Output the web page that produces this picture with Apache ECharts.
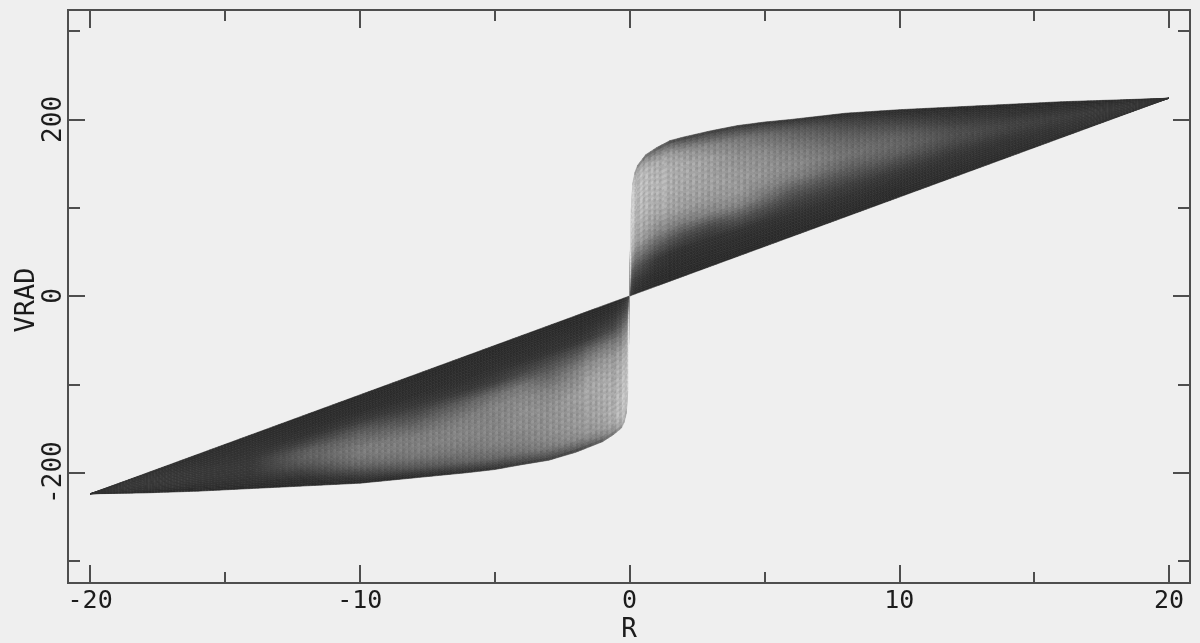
<!DOCTYPE html>
<html>
<head>
<meta charset="utf-8">
<style>html,body{margin:0;padding:0;background:#efefef}#c{width:1200px;height:643px}</style>
<script src="https://cdn.jsdelivr.net/npm/echarts@6/dist/echarts.min.js"></script>
</head>
<body>
<div id="c"></div>
<script>
const xMajorTicks = [-20, -10, 0, 10, 20];
const xMinorTicks = [-15, -5, 5, 15];
const yMajorTicks = [-200, 0, 200];
const yMinorTicks = [-300, -100, 100, 300];

// fractional position between the straight edge (0) and the curved edge (1)
const bandStops = [0, .03, .1, .2, .3, .4, .5, .6, .7, .8, .9, .96, 1];

const rRight = [0, .03, .07, .12, .2, .3, .6, 1, 1.5, 2, 3, 4, 5, 6, 8, 10, 12, 14, 16, 18, 20];
const lineRight = [0, .3, .8, 1.3, 2.2, 3.4, 6.7, 11.2, 16.8, 22.4, 33.6, 44.8, 56, 67.2, 89.6, 112, 134.4, 156.8, 179.2, 201.6, 224];
const curveRight = [0, 50, 100, 128, 140, 148, 160, 168, 176, 180, 187, 193, 197, 200, 207, 211, 214, 217, 220, 222, 224];
const shadeRight = [
  [60,60,60,60,60,60,60,60,60,60,60,60,60],
  [60,75,110,150,185,205,222,230,235,237,238,238,238],
  [55,62,75,110,145,180,200,212,220,225,228,228,225],
  [50,55,62,85,125,165,185,195,200,205,205,200,185],
  [47,50,58,82,122,160,178,188,192,195,195,190,165],
  [45,48,55,80,120,155,172,180,185,188,188,175,140],
  [45,45,50,70,110,150,168,178,182,185,178,152,105],
  [42,42,45,55,95,135,160,172,178,178,168,132,85],
  [42,42,45,50,85,130,158,168,172,172,158,118,70],
  [42,42,44,48,75,125,155,162,166,168,148,102,65],
  [42,42,44,48,70,128,150,158,158,155,130,90,60],
  [42,42,44,50,85,132,150,152,148,138,118,80,55],
  [42,42,44,50,75,112,135,145,142,128,105,75,50],
  [42,42,44,50,65,90,125,138,130,115,95,70,50],
  [42,42,45,50,60,80,100,112,105,90,70,55,45],
  [42,42,44,48,55,72,90,100,95,78,58,48,45],
  [42,44,46,48,52,60,72,78,72,60,50,46,42],
  [42,44,46,48,50,55,62,65,60,52,48,44,42],
  [42,44,48,50,52,55,58,60,55,50,46,44,42],
  [45,46,50,52,52,54,55,55,52,50,46,44,42],
  [50,50,50,50,50,50,50,50,50,50,50,50,50]
];

const rLeft = [0, -.03, -.07, -.12, -.2, -.3, -.6, -1, -1.5, -2, -3, -4, -5, -6, -8, -10, -12, -14, -16, -18, -20];
const lineLeft = [0, -.3, -.8, -1.3, -2.2, -3.4, -6.7, -11.2, -16.8, -22.4, -33.6, -44.8, -56, -67.2, -89.6, -112, -134.4, -156.8, -179.2, -201.6, -224];
const curveLeft = [0, -55, -110, -133, -143, -149.5, -157, -165, -171, -177, -186, -191, -196.5, -200, -206, -212, -215, -218, -221, -223, -224];
const shadeLeft = [
  [60,60,60,60,60,60,60,60,60,60,60,60,60],
  [60,75,110,150,190,210,225,232,236,238,238,238,238],
  [58,65,85,120,160,190,208,215,220,225,226,226,222],
  [55,60,75,110,150,175,190,198,202,205,205,200,185],
  [50,54,66,100,138,162,178,186,190,192,192,184,165],
  [45,48,60,90,125,155,170,178,182,185,185,175,150],
  [42,45,50,70,118,148,165,172,175,178,172,155,120],
  [42,42,48,65,115,148,162,168,168,162,155,130,90],
  [42,42,46,55,105,138,156,162,158,155,145,115,75],
  [42,42,45,52,90,125,142,155,152,150,138,105,65],
  [42,42,45,50,78,105,132,142,142,140,125,90,60],
  [42,42,44,48,70,118,135,140,138,130,115,80,55],
  [42,42,44,48,60,110,130,130,132,125,105,70,48],
  [42,42,44,46,55,95,118,130,130,120,100,65,45],
  [42,42,44,46,55,75,100,120,125,115,85,55,42],
  [42,42,44,46,58,85,105,120,118,100,65,48,42],
  [42,42,44,46,50,65,90,95,85,65,48,44,42],
  [42,44,46,48,50,52,55,56,55,52,48,44,42],
  [44,46,48,50,52,54,56,56,55,52,48,44,42],
  [46,48,50,52,54,56,56,56,54,52,48,44,42],
  [50,50,50,50,50,50,50,50,50,50,50,50,50]
];

const AXIS = '#4e4e4e', TEXT = '#1c1c1c', FONT = '"DejaVu Sans Mono"';

function meshSeries(rs, line, curve, shade) {
  const cells = [];
  for (let i = 0; i < rs.length - 1; i++) for (let j = 0; j < bandStops.length - 1; j++) cells.push([i, j]);
  return {
    type: 'custom', silent: true, xAxisIndex: 0, yAxisIndex: 0, clip: false,
    data: cells, progressive: 0, animation: false,
    renderItem(params, api) {
      const i = api.value(0), j = api.value(1);
      const vAt = (c, t) => line[c] + (curve[c] - line[c]) * t;
      const node = (c, s) => api.coord([rs[c], vAt(c, bandStops[s])]);
      const a = node(i, j), b = node(i + 1, j), c = node(i + 1, j + 1), d = node(i, j + 1);
      const g0 = shade[i][j], g1 = shade[i + 1][j], g2 = shade[i + 1][j + 1], g3 = shade[i][j + 1];
      const w = Math.max(Math.abs(b[0] - a[0]), Math.abs(c[0] - d[0]));
      const h = Math.max(Math.abs(d[1] - a[1]), Math.abs(c[1] - b[1]));
      const nx = Math.max(1, Math.ceil(w / 3)), ny = Math.max(1, Math.ceil(h / 3));
      const pt = (u, v) => [
        (1-u)*(1-v)*a[0] + u*(1-v)*b[0] + u*v*c[0] + (1-u)*v*d[0],
        (1-u)*(1-v)*a[1] + u*(1-v)*b[1] + u*v*c[1] + (1-u)*v*d[1]
      ];
      const children = [];
      for (let x = 0; x < nx; x++) for (let y = 0; y < ny; y++) {
        const u = (x + .5) / nx, v = (y + .5) / ny;
        const base = (1-u)*(1-v)*g0 + u*(1-v)*g1 + u*v*g2 + (1-u)*v*g3;
        // fine printed-dot texture of the original plate
        const p = pt(u, v);
        const stripe = Math.floor(p[0] / 3) % 2 ? 1 : -1;
        const dot = (Math.floor(p[0] / 3) + Math.floor(p[1] / 3)) % 2 ? 1 : -1;
        const g = Math.max(30, Math.min(239, Math.round(base + (base - 40) * (0.06 * stripe + 0.05 * dot))));
        const col = `rgb(${g},${g},${g})`;
        children.push({
          type: 'polygon',
          shape: { points: [pt(x/nx, y/ny), pt((x+1)/nx, y/ny), pt((x+1)/nx, (y+1)/ny), pt(x/nx, (y+1)/ny)] },
          style: { fill: col, stroke: col, lineWidth: 0.6 }
        });
      }
      return { type: 'group', children };
    }
  };
}

function axis(kind, position, ticks, len, extra) {
  return Object.assign({
    type: 'value', position, scale: false,
    min: kind === 'x' ? -20.82 : -325,
    max: kind === 'x' ? 20.78 : 323.9,
    axisLine: { show: true, onZero: false, lineStyle: { color: AXIS, width: 2 } },
    axisTick: { show: true, inside: true, length: len, customValues: ticks, lineStyle: { color: AXIS, width: 2 } },
    axisLabel: { show: false },
    splitLine: { show: false }
  }, extra || {});
}

const option = {
  backgroundColor: '#efefef',
  animation: false,
  grid: { left: 68, right: 10, top: 10, height: 573, containLabel: false, outerBoundsMode: 'none' },
  xAxis: [
    axis('x', 'bottom', xMajorTicks, 18, {
      name: 'R', nameLocation: 'middle', nameGap: 34, nameMoveOverlap: false, nameTextStyle: { color: TEXT, fontFamily: FONT, fontSize: 26 },
      axisLabel: { show: true, margin: 6, customValues: xMajorTicks, formatter: v => String(v), color: TEXT, fontFamily: FONT, fontSize: 25 }
    }),
    axis('x', 'bottom', xMinorTicks, 11),
    axis('x', 'top', xMajorTicks, 18),
    axis('x', 'top', xMinorTicks, 11)
  ],
  yAxis: [
    axis('y', 'left', yMajorTicks, 17, {
      name: 'VRAD', nameLocation: 'middle', nameGap: 28, nameRotate: 90, nameMoveOverlap: false,
      nameTextStyle: { color: TEXT, fontFamily: FONT, fontSize: 27, padding: [0, 7, 0, 0] },
      axisLabel: { show: true, margin: 1, rotate: 90, customValues: yMajorTicks, formatter: v => String(v), color: TEXT, fontFamily: FONT, fontSize: 26 }
    }),
    axis('y', 'left', yMinorTicks, 12),
    axis('y', 'right', yMajorTicks, 17),
    axis('y', 'right', yMinorTicks, 12)
  ],
  series: [
    meshSeries(rRight, lineRight, curveRight, shadeRight),
    meshSeries(rLeft, lineLeft, curveLeft, shadeLeft)
  ]
};
echarts.init(document.getElementById('c'), null, { renderer: 'canvas' }).setOption(option);
</script>
</body>
</html>
